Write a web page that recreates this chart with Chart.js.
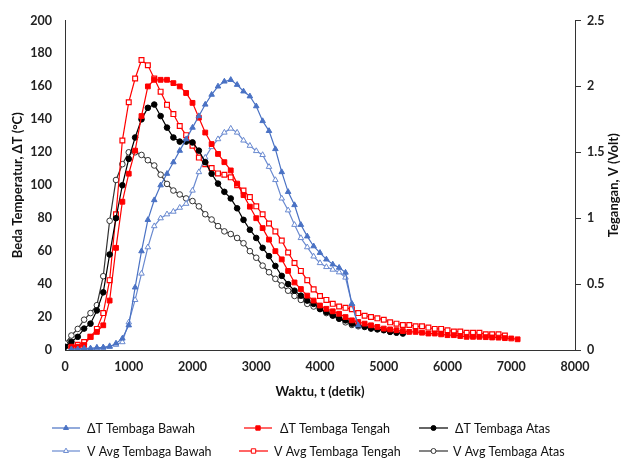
<!DOCTYPE html>
<html><head><meta charset="utf-8">
<script src="https://cdn.jsdelivr.net/npm/chart.js@4/dist/chart.umd.min.js"></script>
<style>html,body{margin:0;padding:0;background:#fff}#wrap{width:633px;height:464px;position:relative}</style>
</head><body><div id="wrap"><canvas id="c" width="633" height="464"></canvas></div>
<script>
// ---- data ----
const tBawah = [100,200,300,400,500,600,700,800,900,1000,1100,1200,1300,1400,1500,1600,1700,1800,1900,2000,2100,2200,2300,2400,2500,2600,2700,2800,2900,3000,3100,3200,3300,3400,3500,3600,3700,3800,3900,4000,4100,4200,4300,4400,4500,4600];
const dtBawah = [0.5,0.5,1,1,1.5,1.5,2,4,7,15,38,60,79,91,100,107,114,121,128,135,142,149,155,160,163,164,161,157,154,148,139,133,122,108,96,88,76,69,63,59,55,52,50,47,28,15];
const vBawah = [0.01,0.01,0.01,0.01,0.01,0.02,0.03,0.04,0.06,0.21,0.38,0.58,0.78,0.94,1.0,1.03,1.05,1.08,1.11,1.21,1.35,1.46,1.54,1.6,1.65,1.68,1.65,1.59,1.55,1.51,1.48,1.39,1.29,1.15,1.06,0.95,0.85,0.78,0.71,0.66,0.63,0.61,0.59,0.55,0.35,0.18];

const tTengahDT = [100,200,300,400,500,600,700,800,900,1000,1100,1200,1300,1400,1500,1600,1700,1800,1900,2000,2100,2200,2300,2400,2500,2600,2700,2800,2900,3000,3100,3200,3300,3400,3500,3600,3700,3800,3900,4000,4100,4200,4300,4400,4500,4600,4700,4800,4900,5000,5100,5200,5300,5400,5500,5600,5700,5800,5900,6000,6100,6200,6300,6400,6500,6600,6700,6800,6900,7000,7100];
const dtTengah = [2,2,3,8,11,15,30,62,90,107,121,142,160,164,164,164,162,160,156,150,141,132,125,119,114,109,101,94,87,80,74,67,60,55,48,41,37,33,30,27,25,23.5,22,20,18,17,16,15,14,13,12.5,12,11.5,11,11,10.5,10,10,9.5,9,9,8.5,8,8,8,7.8,7.6,7.5,7.2,7,6.5];

const tTengahV = [100,200,300,400,500,600,700,800,900,1000,1100,1200,1300,1400,1500,1600,1700,1800,1900,2000,2100,2200,2300,2400,2500,2600,2700,2800,2900,3000,3100,3200,3300,3400,3500,3600,3700,3800,3900,4000,4100,4200,4300,4400,4500,4600,4700,4800,4900,5000,5100,5200,5300,5400,5500,5600,5700,5800,5900,6000,6100,6200,6300,6400,6500,6600,6700,6800,6900];
const vTengah = [0.03,0.04,0.06,0.1,0.16,0.28,0.53,1.03,1.59,1.88,2.06,2.2,2.16,2.06,1.96,1.86,1.79,1.7,1.63,1.55,1.46,1.41,1.38,1.34,1.33,1.31,1.25,1.21,1.16,1.09,1.03,0.96,0.9,0.83,0.74,0.66,0.6,0.53,0.46,0.41,0.38,0.35,0.33,0.32,0.31,0.28,0.26,0.25,0.24,0.23,0.21,0.2,0.19,0.19,0.18,0.18,0.17,0.16,0.16,0.15,0.14,0.14,0.13,0.13,0.13,0.12,0.12,0.12,0.11];

const tAtasDT = [0,100,200,300,400,500,600,700,800,900,1000,1100,1200,1300,1400,1500,1600,1700,1800,1900,2000,2100,2200,2300,2400,2500,2600,2700,2800,2900,3000,3100,3200,3300,3400,3500,3600,3700,3800,3900,4000,4100,4200,4300,4400,4500,4600,4700,4800,4900,5000,5100,5200,5300];
const dtAtas = [2,5,8,13,16,24,35,58,80,100,116,129,140,147,149,142,135,129,126.5,126.5,126,121,114,107,101,96,92,86,79,73,68,62,57,51,45,40,36,33,30,28,25,23,21,19,18,16,15,14,13,12.5,12,11,10.5,10];

const tAtasV = [0,100,200,300,400,500,600,700,800,900,1000,1100,1200,1300,1400,1500,1600,1700,1800,1900,2000,2100,2200,2300,2400,2500,2600,2700,2800,2900,3000,3100,3200,3300,3400,3500,3600,3700,3800,3900,4000,4100,4200,4300,4400,4500,4600];
const vAtas = [0.05,0.11,0.16,0.23,0.28,0.34,0.56,0.98,1.29,1.41,1.5,1.5,1.48,1.44,1.4,1.33,1.26,1.21,1.18,1.15,1.13,1.09,1.03,0.99,0.94,0.9,0.88,0.85,0.81,0.75,0.7,0.64,0.59,0.54,0.49,0.45,0.41,0.38,0.35,0.33,0.31,0.28,0.26,0.24,0.21,0.19,0.18];

const xTicks = [0,1000,2000,3000,4000,5000,6000,7000,8000];
const leftTicks = [0,20,40,60,80,100,120,140,160,180,200];
const rightTicks = [0,0.5,1,1.5,2,2.5];

const seriesNames = ['ΔT Tembaga Bawah','ΔT Tembaga Tengah','ΔT Tembaga Atas','V Avg Tembaga Bawah','V Avg Tembaga Tengah','V Avg Tembaga Atas'];

// ---- build ----
const pts = (xs, ys) => xs.map((x,i) => ({x, y: ys[i]}));
const BLUE = '#4a72c4', BLUE2 = '#6a8ad0', RED = '#ff0000', BLACK = '#000000', GRAY = '#333333';

const datasets = [
  {label: seriesNames[0], data: pts(tBawah, dtBawah), yAxisID:'y', borderColor: BLUE, backgroundColor: BLUE, pointStyle:'triangle', pointRadius:3.2, borderWidth:1.2, pointBorderWidth:1},
  {label: seriesNames[1], data: pts(tTengahDT, dtTengah), yAxisID:'y', borderColor: RED, backgroundColor: RED, pointStyle:'rect', pointRadius:3.4, borderWidth:1.2, pointBorderWidth:1},
  {label: seriesNames[2], data: pts(tAtasDT, dtAtas), yAxisID:'y', borderColor: BLACK, backgroundColor: BLACK, pointStyle:'circle', pointRadius:2.8, borderWidth:1.2, pointBorderWidth:1},
  {label: seriesNames[3], data: pts(tBawah, vBawah), yAxisID:'y1', borderColor: BLUE2, backgroundColor: '#ffffff', pointStyle:'triangle', pointRadius:3.2, borderWidth:1.2, pointBorderWidth:1},
  {label: seriesNames[4], data: pts(tTengahV, vTengah), yAxisID:'y1', borderColor: RED, backgroundColor: '#ffffff', pointStyle:'rect', pointRadius:3.4, borderWidth:1.2, pointBorderWidth:1.2},
  {label: seriesNames[5], data: pts(tAtasV, vAtas), yAxisID:'y1', borderColor: GRAY, backgroundColor: '#ffffff', pointStyle:'circle', pointRadius:2.8, borderWidth:1.2, pointBorderWidth:1},
];
datasets.forEach(d => { d.type = 'line'; d.tension = 0; d.fill = false; d.pointBackgroundColor = d.backgroundColor; d.pointBorderColor = d.borderColor; });

const FONT = 'Lato';
const tickFont = {family: FONT, size: 12.5, weight: 'bold'};

const legendLayout = [
  {i:0, x1:52, x2:80, tx:87, y:428},
  {i:1, x1:244, x2:272, tx:280, y:428},
  {i:2, x1:419, x2:448, tx:455, y:428},
  {i:3, x1:52, x2:80, tx:87, y:451},
  {i:4, x1:239, x2:268, tx:274, y:451},
  {i:5, x1:419, x2:448, tx:453, y:451},
];

const extras = {
  id: 'extras',
  afterDraw(chart) {
    const ctx = chart.ctx;
    const ca = chart.chartArea;
    ctx.save();
    ctx.fillStyle = '#111';
    ctx.font = 'bold 13px ' + FONT;
    ctx.textAlign = 'center';
    ctx.textBaseline = 'middle';
    ctx.fillText('Waktu, t (detik)', (ca.left + ca.right) / 2, 392);
    ctx.save();
    ctx.translate(18, (ca.top + ca.bottom) / 2);
    ctx.rotate(-Math.PI / 2);
    ctx.fillText('Beda Temperatur, ΔT (°C)', 0, 0);
    ctx.restore();
    ctx.save();
    ctx.translate(614, (ca.top + ca.bottom) / 2);
    ctx.rotate(-Math.PI / 2);
    ctx.fillText('Tegangan, V (Volt)', 0, 0);
    ctx.restore();
    ctx.font = '12.5px ' + FONT;
    ctx.textAlign = 'left';
    legendLayout.forEach(L => {
      const d = chart.data.datasets[L.i];
      ctx.strokeStyle = d.borderColor;
      ctx.lineWidth = 1.2;
      ctx.beginPath(); ctx.moveTo(L.x1, L.y); ctx.lineTo(L.x2, L.y); ctx.stroke();
      ctx.fillStyle = d.backgroundColor;
      ctx.strokeStyle = d.borderColor;
      ctx.lineWidth = 1;
      Chart.helpers.drawPoint(ctx, {pointStyle: d.pointStyle, rotation: 0, radius: d.pointRadius - 0.3, borderWidth: 1}, (L.x1 + L.x2) / 2, L.y);
      ctx.fillStyle = '#111';
      ctx.fillText(seriesNames[L.i], L.tx, L.y + 1);
    });
    ctx.restore();
  }
};

new Chart(document.getElementById('c'), {
  type: 'line',
  data: {datasets},
  options: {
    responsive: false,
    animation: false,
    events: [],
    layout: {padding: {top: 17, left: 0, right: 0, bottom: 0}},
    plugins: {legend: {display: false}, tooltip: {enabled: false}},
    scales: {
      x: {
        type: 'linear', min: 0, max: 8000,
        afterFit: s => { s.height = 114; },
        afterBuildTicks: s => { s.ticks = xTicks.map(v => ({value: v})); },
        grid: {display: false, drawTicks: false},
        border: {display: true, color: '#333', width: 1},
        ticks: {font: tickFont, color: '#222', padding: 9, maxRotation: 0, autoSkip: false, callback: v => String(v)}
      },
      y: {
        type: 'linear', position: 'left', min: 0, max: 200,
        afterFit: s => { s.width = 65; },
        afterBuildTicks: s => { s.ticks = leftTicks.map(v => ({value: v})); },
        grid: {display: false, drawTicks: false},
        border: {display: true, color: '#333', width: 1},
        ticks: {font: tickFont, color: '#222', padding: 13, autoSkip: false, callback: v => String(v)}
      },
      y1: {
        type: 'linear', position: 'right', min: 0, max: 2.5,
        afterFit: s => { s.width = 58; },
        afterBuildTicks: s => { s.ticks = rightTicks.map(v => ({value: v})); },
        grid: {display: true, drawOnChartArea: false, drawTicks: true, tickLength: 6, color: '#333'},
        border: {display: true, color: '#333', width: 1},
        ticks: {font: tickFont, color: '#222', padding: 6, autoSkip: false, callback: v => String(v)}
      }
    }
  },
  plugins: [extras]
});
</script></body></html>
